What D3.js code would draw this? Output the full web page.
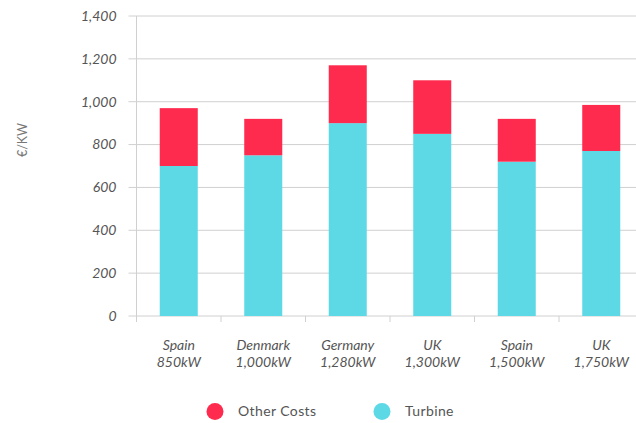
<!DOCTYPE html>
<html>
<head>
<meta charset="utf-8">
<script src="https://cdn.jsdelivr.net/npm/d3@7"></script>
<style>
  html, body { margin: 0; padding: 0; background: #fff; }
  svg { display: block; font-family: Lato, "Open Sans", sans-serif; }
</style>
</head>
<body>
<svg id="chart" width="636" height="423"></svg>
<script>
// Installed cost per kW by turbine size
const categories = ["Spain|850kW", "Denmark|1,000kW", "Germany|1,280kW", "UK|1,300kW", "Spain|1,500kW", "UK|1,750kW"];
const turbine = [700, 750, 900, 850, 720, 770];
const otherCosts = [270, 170, 270, 250, 200, 215];
const yTicks = [0, 200, 400, 600, 800, 1000, 1200, 1400];
const seriesNames = ["Other Costs", "Turbine"];
const seriesColors = { "Turbine": "#5dd9e6", "Other Costs": "#ff2b4e" };

const svg = d3.select("#chart");
const plotLeft = 136.5, plotTop = 16, plotBottom = 316, plotRight = 643.5;

const x = d3.scaleBand().domain(categories).range([plotLeft, plotRight]).paddingInner(0.55).paddingOuter(0.275);
const y = d3.scaleLinear().domain([0, 1400]).range([plotBottom, plotTop]);

// Gridlines
svg.append("g")
  .selectAll("line")
  .data(yTicks)
  .join("line")
  .attr("x1", plotLeft - 8).attr("x2", 636)
  .attr("y1", d => y(d)).attr("y2", d => y(d))
  .attr("stroke", "#d0d0d0").attr("stroke-width", 1);

// Y axis line
svg.append("line")
  .attr("x1", plotLeft).attr("x2", plotLeft)
  .attr("y1", plotTop).attr("y2", plotBottom + 6)
  .attr("stroke", "#d0d0d0");

// Category separator ticks
const step = x.step();
svg.append("g")
  .selectAll("line")
  .data(d3.range(categories.length + 1))
  .join("line")
  .attr("x1", i => plotLeft + i * step).attr("x2", i => plotLeft + i * step)
  .attr("y1", plotBottom).attr("y2", plotBottom + 6)
  .attr("stroke", "#d0d0d0");

// Y tick labels
svg.append("g")
  .selectAll("text")
  .data(yTicks)
  .join("text")
  .attr("x", plotLeft - 20).attr("y", d => y(d))
  .attr("dy", "0.35em")
  .attr("text-anchor", "end")
  .attr("font-style", "italic")
  .attr("font-size", 14)
  .attr("fill", "#555")
  .text(d => d3.format(",")(d));

// Y axis title
svg.append("text")
  .attr("transform", `translate(27,140) rotate(-90)`)
  .attr("text-anchor", "middle")
  .attr("font-size", 12.5)
  .attr("fill", "#777")
  .text("€/KW");

// Stacked bars
const rows = categories.map((c, i) => ({ cat: c, "Turbine": turbine[i], "Other Costs": otherCosts[i] }));
const stack = d3.stack().keys(["Turbine", "Other Costs"])(rows);

svg.append("g")
  .selectAll("g")
  .data(stack)
  .join("g")
  .attr("fill", s => seriesColors[s.key])
  .selectAll("rect")
  .data(s => s)
  .join("rect")
  .attr("x", d => x(d.data.cat))
  .attr("width", x.bandwidth())
  .attr("y", d => y(d[1]))
  .attr("height", d => y(d[0]) - y(d[1]));

// Category labels (two lines)
const labels = svg.append("g")
  .selectAll("text")
  .data(categories)
  .join("text")
  .attr("text-anchor", "middle")
  .attr("font-style", "italic")
  .attr("font-size", 14)
  .attr("fill", "#555")
  .attr("transform", d => `translate(${x(d) + x.bandwidth() / 2},350)`);
labels.selectAll("tspan")
  .data(d => d.split("|"))
  .join("tspan")
  .attr("x", 0)
  .attr("dy", (d, i) => i === 0 ? 0 : 17)
  .text(d => d);

// Legend
const legendX = [215, 382];
const legend = svg.append("g")
  .selectAll("g")
  .data(seriesNames)
  .join("g")
  .attr("transform", (d, i) => `translate(${legendX[i]},411.5)`);
legend.append("circle").attr("r", 8.5).attr("fill", d => seriesColors[d]);
legend.append("text")
  .attr("x", 23).attr("dy", "0.35em")
  .attr("font-size", 14)
  .attr("letter-spacing", 0.4)
  .attr("fill", "#555")
  .text(d => d);
</script>
</body>
</html>
